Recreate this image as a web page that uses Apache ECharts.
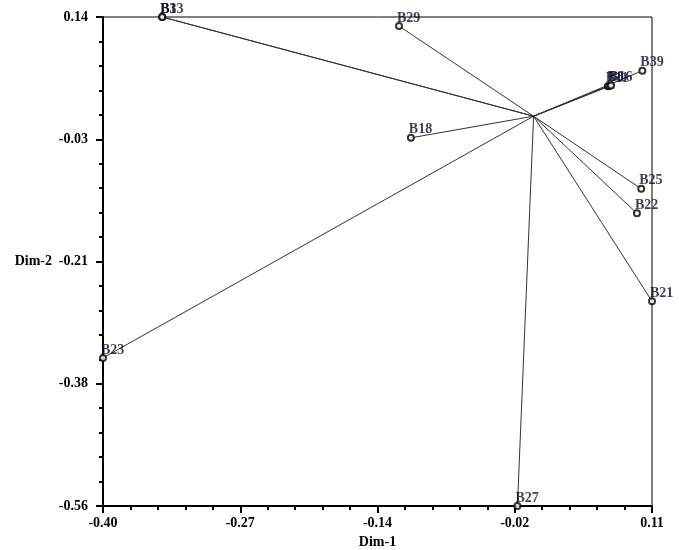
<!DOCTYPE html>
<html>
<head>
<meta charset="utf-8">
<script src="https://cdn.jsdelivr.net/npm/echarts@6/dist/echarts.min.js"></script>
<style>html,body{margin:0;padding:0;background:#fff;}#c{width:679px;height:550px;}</style>
</head>
<body>
<div id="c"></div>
<script>
const pointLabels = ['B13','B3','B29','B18','B11','B8','B16','B39','B25','B22','B21','B23','B27'];
const dim1 = [-0.345,-0.345,-0.125,-0.114,0.069,0.0705,0.072,0.101,0.100,0.096,0.110,-0.400,-0.015];
const dim2 = [0.140,0.140,0.127,-0.033,0.041,0.0415,0.042,0.063,-0.106,-0.141,-0.267,-0.348,-0.560];
const origin = [0, -0.002];

const xMin = -0.40, xMax = 0.11;
const yMin = -0.56, yMax = 0.14;
const xTickValues = [-0.40, -0.2725, -0.145, -0.0175, 0.11];
const xTickLabels = ['-0.40','-0.27','-0.14','-0.02','0.11'];
const yTickValues = [0.14, -0.035, -0.21, -0.385, -0.56];
const yTickLabels = ['0.14','-0.03','-0.21','-0.38','-0.56'];
const minorDivisions = 5;

function minorValues(vals){
  const out = [];
  for (let i = 0; i < vals.length - 1; i++) {
    for (let k = 0; k < minorDivisions; k++) out.push(vals[i] + (vals[i+1]-vals[i]) * k / minorDivisions);
  }
  out.push(vals[vals.length-1]);
  return out;
}
function labelFor(vals, labs){
  return function(v){
    let best = 0, bd = Infinity;
    vals.forEach((t,i)=>{const d=Math.abs(t-v); if(d<bd){bd=d;best=i;}});
    return labs[best];
  };
}

const font = 'Liberation Serif';
const chart = echarts.init(document.getElementById('c'), null, {renderer:'canvas'});
const points = pointLabels.map((n,i)=>({name:n, value:[dim1[i], dim2[i]]}));
const segs = pointLabels.map((n,i)=>({coords:[origin, [dim1[i], dim2[i]]]}));

chart.setOption({
  animation:false,
  backgroundColor:'#fff',
  grid:{left:103, right:27, top:17, bottom:44, containLabel:false, outerBoundsMode:'none',
    show:true, borderColor:'#000', borderWidth:1, backgroundColor:'transparent'},
  xAxis:[{
    type:'value', min:xMin, max:xMax, position:'bottom',
    name:'Dim-1', nameLocation:'middle', nameGap:29,
    nameTextStyle:{fontFamily:font, fontWeight:'bold', fontSize:14, color:'#000'},
    axisLine:{show:true, onZero:false, lineStyle:{color:'#000', width:2}},
    axisTick:{show:true, length:7, customValues:xTickValues, lineStyle:{color:'#000', width:2}},
    axisLabel:{show:true, customValues:xTickValues, margin:10, formatter:labelFor(xTickValues,xTickLabels), fontFamily:font, fontWeight:'bold', fontSize:14, color:'#000'},
    splitLine:{show:false}
  },{
    type:'value', min:xMin, max:xMax, position:'bottom', offset:0,
    axisLine:{show:false, onZero:false},
    axisTick:{show:true, length:4, customValues:minorValues(xTickValues), lineStyle:{color:'#000', width:2}},
    axisLabel:{show:false}, splitLine:{show:false}
  }],
  yAxis:[{
    type:'value', min:yMin, max:yMax, position:'left',
    name:'Dim-2', nameLocation:'middle', nameGap:51, nameRotate:0, nameMoveOverlap:false,
    nameTextStyle:{fontFamily:font, fontWeight:'bold', fontSize:14, color:'#000'},
    axisLine:{show:true, onZero:false, lineStyle:{color:'#000', width:2}},
    axisTick:{show:true, length:7, customValues:yTickValues, lineStyle:{color:'#000', width:2}},
    axisLabel:{show:true, customValues:yTickValues, margin:15, formatter:labelFor(yTickValues,yTickLabels), fontFamily:font, fontWeight:'bold', fontSize:14, color:'#000'},
    splitLine:{show:false}
  },{
    type:'value', min:yMin, max:yMax, position:'left', offset:0,
    axisLine:{show:false, onZero:false},
    axisTick:{show:true, length:4, customValues:minorValues(yTickValues), lineStyle:{color:'#000', width:2}},
    axisLabel:{show:false}, splitLine:{show:false}
  }],
  series:[{
    type:'lines', coordinateSystem:'cartesian2d', xAxisIndex:0, yAxisIndex:0,
    data:segs, symbol:'none',
    lineStyle:{color:'#333', width:1, opacity:1}, silent:true, z:2
  },{
    type:'scatter', xAxisIndex:0, yAxisIndex:0, data:points,
    symbol:'circle', symbolSize:6, clip:false,
    itemStyle:{color:'#fff', borderColor:'#000', borderWidth:2},
    label:{show:true, formatter:'{b}', position:[2,3], align:'left', verticalAlign:'bottom',
      fontFamily:font, fontSize:14, fontWeight:'bold', color:'#0c0c2a'},
    labelLayout:{hideOverlap:false},
    z:3
  }]
});
</script>
</body>
</html>
